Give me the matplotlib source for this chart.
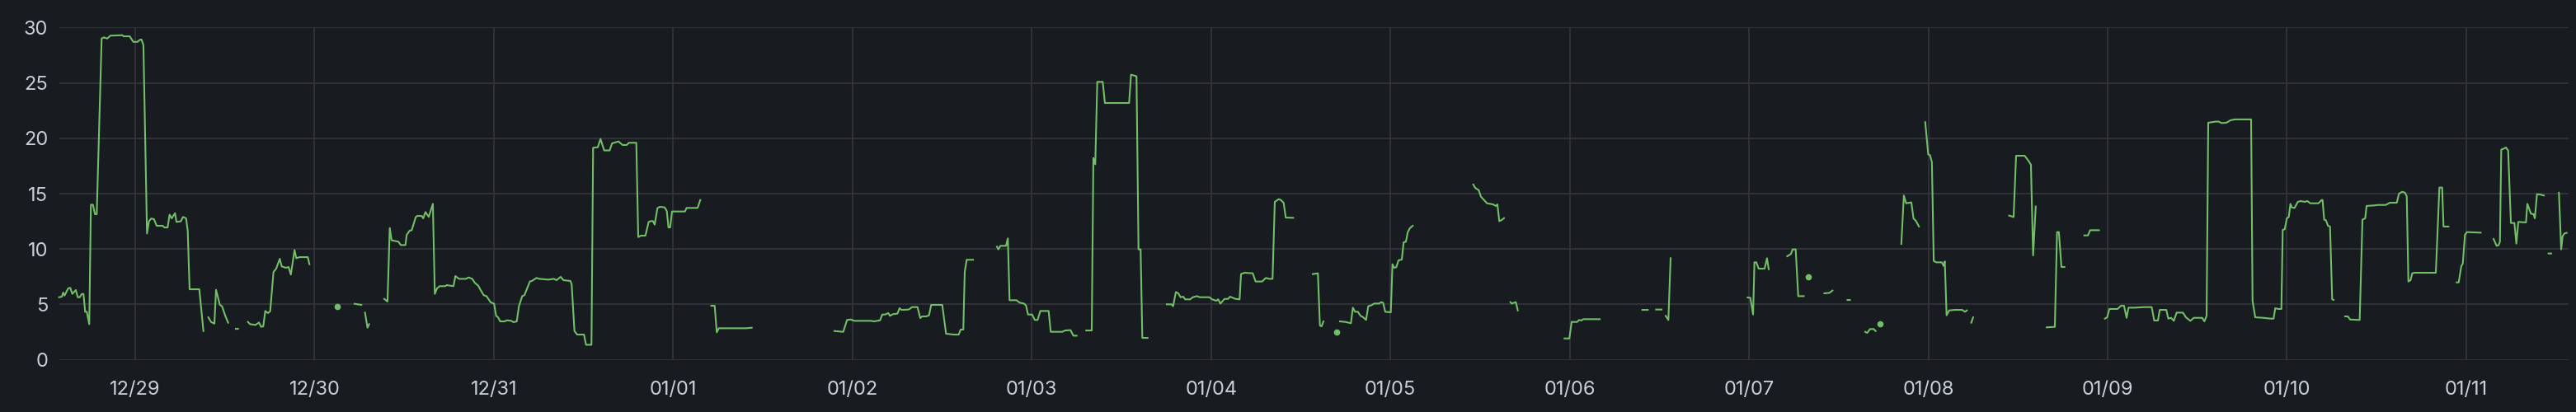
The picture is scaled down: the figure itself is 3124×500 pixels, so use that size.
import numpy as np
import matplotlib
matplotlib.use("Agg")
import matplotlib.pyplot as plt
import matplotlib.dates as mdates
from datetime import datetime, timedelta

# ---- data: hours since 2023-12-28 00:00, value (None = no data) ----
hours_a = [13.81, 14.18, 14.36, 14.54, 15.03, 15.31, 15.58, 16.05, 16.31, 16.57, 16.86, 17.08, 17.30, 17.52,
           17.85, 18.07, 18.34, 18.62, 18.85, 19.51, 19.81, 20.25, 20.69, 22.27, 22.45, 23.26, 23.75, 24.30,
           24.66, 24.85, 25.10, 25.58, 25.84, 26.13, 26.51, 26.87, 27.68, 27.90, 28.34, 28.60, 28.89, 29.33,
           29.52, 30.10, 30.40, 30.81, 31.03, 31.28, 32.58, 33.13, 33.4,
           33.79, 34.15, 34.60, 34.82, 35.33, 35.62, 36.06, 36.44, 36.9,
           37.47, 37.76, 38.4,
           39.09, 39.37, 40.11, 40.56, 40.85, 41.14, 41.41, 41.77, 42.07, 42.51, 42.87, 43.35, 43.61, 44.16,
           44.53, 44.83, 45.33, 45.56, 46.00, 47.10, 47.32, 49.0,
           51.07, 52.0,
           53.36, 54.27, 54.5,
           54.76, 55.09, 55.31, 56.0,
           57.33, 57.77, 58.07, 58.32, 59.24, 59.54, 60.17, 60.34, 60.72, 61.01, 61.56, 61.82, 62.38, 62.55,
           62.85, 63.29, 63.84, 64.10, 64.40, 64.76, 65.50, 65.69, 66.60, 66.86, 67.34, 68.26, 68.62, 69.11,
           69.47, 69.91, 70.21, 70.65, 71.02, 71.57, 72.04, 72.31, 72.56, 72.86, 73.41, 73.78, 74.33, 74.63,
           75.07, 75.36, 75.80, 76.09, 76.83, 77.09, 77.72, 78.08, 79.30, 80.03, 80.40, 80.95, 81.32, 82.24,
           82.42, 82.79, 83.16, 84.07, 84.34, 85.07, 85.29, 85.92, 86.28, 86.77, 87.50, 87.83, 88.31, 88.68,
           89.23, 89.78, 90.08, 91.07, 91.33, 91.69, 92.29, 92.73, 93.01, 93.31, 93.53, 93.90, 94.20, 94.86,
           95.15, 95.38, 95.60, 95.85, 97.58, 97.80, 99.27, 99.64, 100.3,
           101.11, 101.56, 101.84, 102.11, 105.78, 106.52]
temp_a = [5.65, 5.70, 6.07, 5.80, 6.45, 6.50, 5.95, 6.30, 5.65, 5.65, 5.95, 5.95, 4.34, 4.34,
          3.22, 14.0, 14.0, 13.14, 13.14, 29.0, 29.1, 29.0, 29.26, 29.3, 29.2, 29.2, 28.7, 28.7,
          28.9, 28.9, 28.4, 11.4, 12.5, 12.75, 12.7, 12.1, 12.1, 11.95, 11.95, 13.1, 12.77, 13.24,
          12.45, 12.5, 12.9, 12.77, 11.65, 6.37, 6.37, 2.6, None,
          3.84, 3.42, 3.27, 6.32, 4.96, 4.84, 3.97, 3.35, None,
          2.8, 2.8, None,
          3.42, 3.22, 3.15, 3.37, 2.98, 3.02, 4.41, 4.22, 4.39, 7.93, 8.23, 9.12, 8.43, 8.31,
          8.38, 7.69, 9.92, 9.17, 9.27, 9.27, 8.63, None,
          4.79, None,
          5.06, 4.96, None,
          4.26, 2.9, 3.22, None,
          5.5, 5.26, 11.9, 10.79, 10.66, 10.36, 10.36, 11.28, 11.65, 11.7, 12.9, 13.0, 12.97, 12.77,
          13.34, 12.9, 14.08, 5.95, 6.45, 6.65, 6.65, 6.74, 6.65, 7.56, 7.31, 7.31, 7.44, 7.31,
          6.94, 6.7, 6.32, 5.83, 5.75, 5.2, 5.06, 3.97, 3.84, 3.47, 3.47, 3.57, 3.52, 3.4,
          3.47, 4.84, 5.75, 5.83, 7.07, 7.12, 7.39, 7.31, 7.24, 7.31, 7.19, 7.49, 7.19, 7.12,
          6.82, 2.6, 2.28, 2.28, 1.36, 1.36, 19.14, 19.19, 19.94, 18.9, 18.9, 19.54, 19.64, 19.71,
          19.39, 19.39, 19.59, 19.59, 11.08, 11.21, 11.21, 12.45, 12.52, 12.52, 12.2, 13.69, 13.81, 13.76,
          13.44, 11.95, 11.95, 13.39, 13.39, 13.71, 13.71, 14.43, None,
          4.88, 4.88, 2.48, 2.85, 2.85, 2.9]

hours_b = [117.59, 118.77, 119.28, 119.77, 120.24, 122.53, 122.89, 123.70, 123.99, 124.36, 124.80, 125.02,
           125.40, 126.02, 126.31, 126.57, 127.31, 127.60, 127.97, 128.71, 129.07, 129.33, 129.88, 130.25,
           130.54, 132.02, 132.53, 133.56, 134.22, 134.48, 134.84, 135.03, 135.29, 136.14, 137.0,
           139.34, 139.52, 139.81, 140.55, 140.80, 141.03, 141.95, 142.39, 142.95, 143.23, 143.50, 144.05,
           144.41, 144.78, 145.15, 146.26, 146.54, 148.09, 148.46, 149.19, 149.57, 150.01, 150.6,
           151.29, 152.03, 152.25, 152.50, 152.77, 153.50, 153.79, 157.03, 157.29, 157.66, 158.02, 158.29,
           158.57, 158.80, 159.50, 160.5,
           162.07, 162.70, 162.92, 163.29, 163.62, 163.91, 164.28, 164.53, 165.20, 165.57, 166.12, 166.49,
           167.78, 168.14, 168.69, 168.95, 169.25, 169.80, 170.27, 170.54, 171.27, 171.82, 172.01, 172.48,
           173.58, 173.96, 174.84, 175.32, 175.79, 176.23, 176.53, 177.05, 177.34, 177.71, 178.00, 178.99, 180.0,
           181.61, 182.30, 182.57, 182.79, 183.04, 183.9,
           184.81, 185.0,
           185.25, 185.99, 186.72, 186.98, 187.27, 187.65, 188.01, 188.37, 188.75, 189.04, 189.41, 189.85,
           190.51, 190.77, 191.02, 191.32, 192.06, 192.28, 192.50, 192.79, 193.09, 193.53, 193.78, 194.08,
           194.33, 194.63, 194.99, 196.0,
           203.10, 203.38, 203.82, 204.12, 204.93, 205.74, 206.11, 206.33, 206.58, 206.85, 207.21, 207.6,
           208.06, 208.24, 208.79, 209.06, 209.8,
           215.31, 215.96, 216.26, 217.00, 217.26, 217.56, 217.81, 220.02, 221.0,
           225.72, 226.45, 227.0,
           227.56, 228.29, 228.6,
           228.85, 229.21, 229.51]
temp_b = [2.6, 2.53, 3.6, 3.64, 3.52, 3.52, 3.47, 3.57, 4.09, 4.09, 4.22, 3.97,
          4.12, 4.17, 4.66, 4.51, 4.53, 4.56, 4.76, 4.76, 3.77, 3.92, 3.92, 4.02,
          4.96, 4.96, 2.36, 2.28, 2.28, 2.73, 2.73, 7.93, 9.03, 9.03, None,
          10.22, 9.97, 10.29, 10.29, 10.96, 5.38, 5.38, 5.16, 5.08, 4.91, 4.09, 4.09,
          3.6, 3.6, 4.41, 4.41, 2.53, 2.53, 2.65, 2.68, 2.18, 2.18, None,
          2.65, 2.65, 18.22, 17.65, 25.09, 25.09, 23.18, 23.18, 25.74, 25.66, 25.59, 9.97,
          9.97, 1.98, 1.98, None,
          5.01, 5.01, 4.84, 6.12, 6.0, 5.65, 5.7, 5.46, 5.46, 5.65, 5.75, 5.65,
          5.65, 5.46, 5.33, 5.46, 5.08, 5.5, 5.5, 5.7, 5.5, 5.46, 7.74, 7.86,
          7.81, 7.07, 7.07, 7.39, 7.31, 7.31, 14.26, 14.5, 14.43, 14.18, 12.84, 12.82, None,
          7.74, 7.81, 3.1, 3.02, 3.47, None,
          2.53, None,
          3.47, 3.42, 3.3, 4.71, 4.34, 4.34, 3.97, 3.84, 3.6, 4.84, 4.91, 5.08,
          5.08, 5.21, 5.16, 4.34, 4.29, 8.63, 8.31, 8.36, 8.98, 9.05, 10.61, 10.66,
          11.53, 11.9, 12.1, None,
          15.82, 15.5, 15.32, 14.73, 14.13, 14.03, 13.89, 14.03, 12.52, 12.6, 12.79, None,
          5.21, 5.08, 5.21, 4.46, None,
          1.93, 1.93, 3.42, 3.42, 3.6, 3.55, 3.67, 3.67, None,
          4.51, 4.51, None,
          4.54, 4.54, None,
          3.97, 3.6, 9.17]

hours_c = [239.2, 239.81, 240.18, 240.55, 240.73, 240.99, 241.29, 242.09, 242.41, 242.64, 243.5,
           245.12, 245.61, 245.84, 246.25, 246.59, 247.33, 247.6,
           247.97, 248.5,
           250.09, 250.78, 251.17, 252.0,
           253.18, 253.51, 254.5,
           255.56, 255.81, 256.21, 256.69, 256.95, 257.3,
           257.59, 258.5,
           260.39, 260.73, 261.03, 261.73, 262.02, 262.36, 262.75, 263.2,
           263.59, 263.99, 264.23, 264.48, 264.73, 265.07, 265.81, 266.05, 266.21, 266.45, 266.79, 267.53,
           268.52, 268.91, 269.16, 269.45,
           269.75, 270.00, 272.0,
           274.82, 275.42, 275.75, 276.90, 277.39, 277.74, 278.03, 278.38, 279.1,
           279.85, 280.94, 281.23, 281.48, 281.82, 282.22, 283.5,
           284.88, 285.37, 285.66, 286.84, 287.2,
           287.64, 287.94, 288.23, 289.32, 289.80, 290.20, 290.54, 290.80, 291.68, 292.90, 293.90, 294.24,
           294.74, 294.98, 295.86, 296.12, 296.50, 296.86, 297.24, 298.08, 298.48, 299.07, 299.54, 300.66,
           300.95, 301.25, 301.47, 302.43, 302.87, 303.24, 303.90, 304.45, 305.00, 307.21, 307.40, 307.76,
           308.86, 309.78, 310.22, 310.44, 310.88, 311.26, 311.44, 311.70, 311.99, 312.25, 312.47, 312.65,
           313.02, 313.46, 313.83, 314.38, 314.74, 315.12, 316.22, 316.66, 316.77, 316.99, 317.22, 317.50,
           317.77, 318.06, 318.24, 319.0,
           319.79, 320.16, 320.45, 321.74, 322.11, 322.48, 322.66, 323.76, 324.13, 325.23, 325.78, 326.71,
           327.00, 327.44, 327.81, 328.04, 328.26, 328.55, 328.77, 329.10, 331.93, 332.41, 332.78, 332.96,
           333.62, 334.2,
           334.72, 334.99, 335.35, 335.54, 335.83, 336.09, 337.93, 338.8,
           339.66, 340.07, 340.32, 340.51, 340.69, 341.13, 341.31, 341.61, 341.98, 342.45, 342.71, 342.97,
           344.00, 344.18, 344.66, 345.03, 345.18, 345.47, 345.84, 346.39, 346.7,
           347.02, 347.38, 347.9,
           348.41, 348.71, 348.90, 349.15, 349.45]
temp_c = [None, 5.63, 5.6, 4.09, 8.8, 8.8, 8.23, 8.23, 9.17, 8.18, None,
          9.35, 9.55, 9.97, 9.97, 5.75, 5.75, None,
          7.49, None,
          6.0, 6.05, 6.25, None,
          5.4, 5.4, None,
          2.53, 2.43, 2.78, 2.78, 2.6, None,
          3.27, None,
          10.46, 14.83, 14.13, 14.21, 12.77, 12.52, 12.03, None,
          21.45, 18.55, 18.47, 17.85, 8.93, 8.8, 8.8, 8.48, 8.88, 4.02, 4.46, 4.51,
          4.51, 4.34, 4.46, None,
          3.35, 3.84, None,
          13.02, 12.89, 18.42, 18.42, 17.98, 17.6, 9.42, 13.84, None,
          2.93, 2.98, 11.53, 11.53, 8.38, 8.38, None,
          11.23, 11.23, 11.7, 11.7, None,
          3.72, 3.84, 4.59, 4.59, 4.88, 4.88, 3.79, 4.71, 4.71, 4.76, 4.76, 3.55,
          3.55, 4.51, 4.51, 3.72, 3.79, 3.52, 4.26, 4.26, 3.84, 3.52, 3.79, 3.79,
          3.47, 3.97, 21.4, 21.5, 21.5, 21.37, 21.4, 21.62, 21.7, 21.7, 5.33, 3.84,
          3.79, 3.72, 3.72, 4.66, 4.59, 4.59, 11.73, 11.78, 12.77, 12.89, 14.08, 13.76,
          13.71, 14.26, 14.33, 14.26, 14.33, 14.13, 14.13, 14.43, 14.43, 12.65, 12.6, 12.1,
          12.03, 5.46, 5.41, None,
          3.92, 3.92, 3.64, 3.6, 12.65, 12.77, 13.89, 13.94, 13.98, 13.98, 14.18, 14.18,
          15.0, 15.17, 15.08, 14.75, 7.07, 7.19, 7.81, 7.86, 7.86, 15.55, 15.55, 12.03,
          12.03, None,
          6.99, 6.99, 8.48, 8.68, 11.28, 11.53, 11.48, None,
          10.91, 10.29, 10.34, 10.66, 18.97, 19.09, 19.17, 18.89, 12.35, 12.35, 10.49, 12.45,
          12.4, 14.08, 13.19, 13.14, 12.77, 14.95, 14.93, 14.83, None,
          9.6, 9.6, None,
          15.08, 9.97, 11.16, 11.41, 11.46]

y_ticks = [0, 5, 10, 15, 20, 25, 30]
x_tick_days = [f"2023-12-{d}" for d in (29, 30, 31)] + [f"2024-01-{d:02d}" for d in range(1, 12)]

# ---- style ----
BG = "#181b1f"
GRID = "#34363c"
TXT = "#c7d0d9"
LINE = "#73bf69"

base = datetime(2023, 12, 28)
hours = hours_a + [None] + hours_b + [None] + hours_c
temps = temp_a + [None] + temp_b + [None] + temp_c
h = np.array([np.nan if v is None else v for v in hours], dtype=float)
v = np.array([np.nan if x is None else x for x in temps], dtype=float)
mask = ~np.isnan(h)
t = np.array([base + timedelta(hours=float(x)) if not np.isnan(x) else base for x in h])
v = np.where(mask, v, np.nan)

plt.rcParams['font.family'] = ['Inter', 'DejaVu Sans']
fig = plt.figure(figsize=(31.24, 5.0), dpi=100, facecolor=BG)
ax = fig.add_axes([72 / 3124, 1 - 436.7 / 500, (3115 - 72) / 3124, (436.7 - 33.3) / 500])
ax.set_facecolor(BG)

tn = mdates.date2num(t)
ax.plot(tn, v, color=LINE, lw=1.5, solid_joinstyle='round', clip_on=False, zorder=3)

# isolated points drawn as dots
vv = np.concatenate([[np.nan], v, [np.nan]])
iso = (~np.isnan(vv[1:-1])) & np.isnan(vv[:-2]) & np.isnan(vv[2:])
ax.plot(tn[iso], v[iso], 'o', color=LINE, ms=4.5, mfc=LINE, mec=LINE, zorder=3)

ax.set_ylim(0, 30)
ax.set_xlim(mdates.date2num(base + timedelta(hours=13.85)), mdates.date2num(base + timedelta(hours=349.7)))
ax.set_yticks(y_ticks)
ax.set_xticks([mdates.date2num(datetime.fromisoformat(d)) for d in x_tick_days])
ax.xaxis.set_major_formatter(mdates.DateFormatter('%m/%d'))
ax.grid(True, color=GRID, lw=1.2, zorder=0)
ax.set_axisbelow(True)
for s in ax.spines.values():
    s.set_visible(False)
ax.tick_params(axis='both', length=0, colors=TXT, labelsize=17)
ax.tick_params(axis='y', pad=10)
ax.tick_params(axis='x', pad=18)

fig.savefig("out.png", dpi=100, facecolor=BG)
